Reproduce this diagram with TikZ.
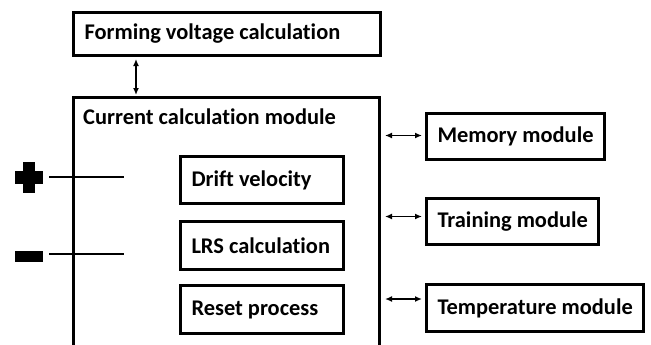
\documentclass[tikz,border=0pt]{standalone}
\usepackage{fontspec}
\setmainfont{Carlito}[Ligatures=NoCommon]
\usetikzlibrary{arrows.meta}

\tikzset{
  box/.style={draw, line width=3bp, inner xsep=11bp, inner ysep=0bp, font=\fontsize{22.5}{27}\selectfont\bfseries},
  fixbox/.style={box, align=flush left, anchor=north west},
  sidebox/.style={box, anchor=north west, minimum height=46bp},
  biarrow/.style={{Latex[length=7bp,width=6bp]}-{Latex[length=7bp,width=6bp]}, line width=1.6bp},
  wire/.style={line width=1.2bp},
  sign/.style={fill=black, inner sep=0bp}
}

\begin{document}
\begin{tikzpicture}[x=1bp, y=-1bp]
			%%%%% START %%%%%
			\clip (0,0) rectangle (651,344);
			
			\node[fixbox, text width=285bp, minimum height=43bp] (form) at (72,11) {Forming voltage calculation};
			
			\node[draw, line width=3bp, anchor=north west, minimum width=306bp, minimum height=280bp] (mod) at (72,96) {};
			\node[anchor=north west, inner sep=0bp, font=\fontsize{22.5}{27}\selectfont\bfseries] (modlabel) at ([shift={(11,13)}]mod.north west) {Current calculation module};
			
			\node[fixbox, text width=141bp, minimum height=47bp] (drift) at (179,155) {Drift velocity};
			\node[fixbox, text width=141bp, minimum height=48bp] (lrs) at (179,220) {LRS calculation};
			\node[fixbox, text width=141bp, minimum height=48bp] (reset) at (179,284) {Reset process};
			
			\node[sidebox] (mem) at (425,112) {Memory module};
			\node[sidebox] (train) at (425,197) {Training module};
			\node[sidebox, minimum height=47bp] (temp) at (425,283) {Temperature module};
			
			\draw[biarrow, shorten <=2bp, shorten >=1bp] ([xshift=64bp]form.south west) -- ([xshift=64bp]mod.north west);
			
			\draw[biarrow, shorten <=4bp, shorten >=3bp] ([yshift=1bp]mod.east |- mem.west) -- ([yshift=1bp]mem.west);
			\draw[biarrow, shorten <=4bp, shorten >=3bp] ([yshift=5bp]mod.east |- train.west) -- ([yshift=5bp]train.west);
			\draw[biarrow, shorten <=4bp, shorten >=3bp] ([yshift=9bp]mod.east |- temp.west) -- ([yshift=9bp]temp.west);
			
			% plus and minus terminals
			\node[sign, minimum width=28bp, minimum height=13bp] (plus) at (29,177) {};
			\node[sign, minimum width=12bp, minimum height=31bp] (plusv) at (plus) {};
			\node[sign, minimum width=28bp, minimum height=11bp] (minus) at (29,256) {};
			
			\draw[wire] ([xshift=6bp]plus.east) -- ([xshift=81bp]plus.east);
			\draw[wire] ([shift={(6,-2)}]minus.east) -- ([shift={(81,-2)}]minus.east);
			
			%%%%% END %%%%%
\end{tikzpicture}
\end{document}
